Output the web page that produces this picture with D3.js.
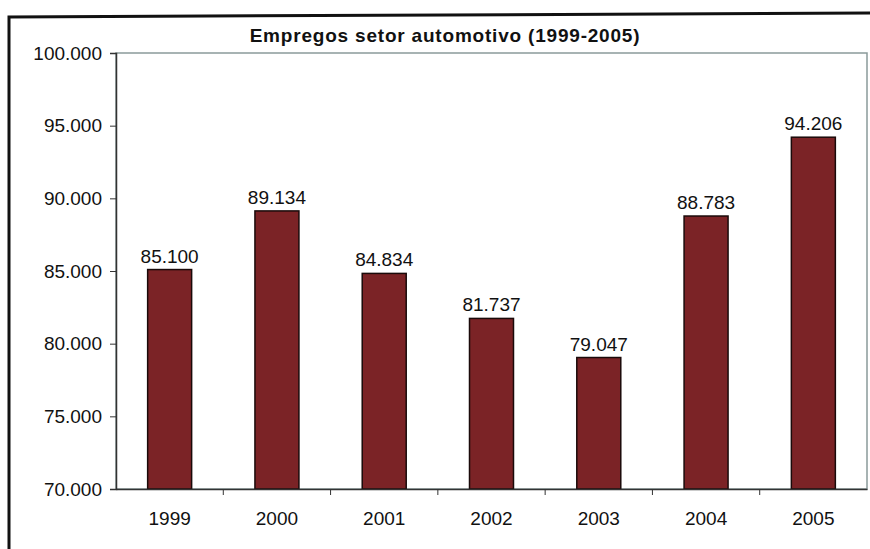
<!DOCTYPE html>
<html>
<head>
<meta charset="utf-8">
<script src="https://cdn.jsdelivr.net/npm/d3@7"></script>
<style>
  body { margin: 0; background: #fff; }
  svg { display: block; font-family: "Liberation Sans", Arial, sans-serif; }
</style>
</head>
<body>
<svg id="chart"></svg>
<script>
// chart data
const years = ["1999", "2000", "2001", "2002", "2003", "2004", "2005"];
const empregos = [85100, 89134, 84834, 81737, 79047, 88783, 94206];
const yTicks = [70000, 75000, 80000, 85000, 90000, 95000, 100000];
const title = "Empregos setor automotivo (1999-2005)";

const WIDTH = 870;
const HEIGHT = 549;
const PADDING = { TOP: 53, RIGHT: 3, BOTTOM: 60, LEFT: 116 };
const FONT = "'Liberation Sans', Arial, sans-serif";

const fmt = v => d3.format(",")(v).replace(/,/g, ".");

let svg = d3.select("#chart")
  .attr("width", WIDTH)
  .attr("height", HEIGHT);

// outer frame
svg.append("path")
  .attr("d", `M9,${HEIGHT} L9,17 L${WIDTH},13`)
  .attr("fill", "none")
  .attr("stroke", "#111")
  .attr("stroke-width", 3);

let xScale = d3.scaleBand()
  .domain(years)
  .range([PADDING.LEFT, WIDTH - PADDING.RIGHT])
  .paddingInner(0.59)
  .paddingOuter(0.295);

let yScale = d3.scaleLinear()
  .domain([70000, 100000])
  .range([HEIGHT - PADDING.BOTTOM, PADDING.TOP]);

// plot area box
svg.append("rect")
  .attr("x", PADDING.LEFT)
  .attr("y", PADDING.TOP)
  .attr("width", WIDTH - PADDING.RIGHT - PADDING.LEFT)
  .attr("height", HEIGHT - PADDING.BOTTOM - PADDING.TOP)
  .attr("fill", "none")
  .attr("stroke", "#8a9a9a")
  .attr("stroke-width", 1.5);

// bars
svg.selectAll("rect.bar")
  .data(empregos)
  .enter()
  .append("rect")
    .attr("class", "bar")
    .attr("x", (d, i) => xScale(years[i]))
    .attr("y", d => yScale(d))
    .attr("width", xScale.bandwidth())
    .attr("height", d => yScale(70000) - yScale(d))
    .attr("fill", "#7b2326")
    .attr("stroke", "#1a0a0a")
    .attr("stroke-width", 1.5);

// value labels
svg.selectAll("text.value")
  .data(empregos)
  .enter()
  .append("text")
    .attr("class", "value")
    .attr("x", (d, i) => xScale(years[i]) + xScale.bandwidth() / 2)
    .attr("y", d => yScale(d) - 7)
    .attr("text-anchor", "middle")
    .attr("font-size", 19)
    .attr("fill", "#111")
    .text(fmt);

// y axis
let yAxis = svg.append("g")
  .attr("transform", `translate(${PADDING.LEFT},0)`)
  .call(d3.axisLeft(yScale).tickValues(yTicks).tickFormat(fmt).tickSize(6).tickPadding(8));
yAxis.select(".domain").attr("stroke", "#333").attr("stroke-width", 1.5);
yAxis.selectAll(".tick line").attr("stroke", "#333");
yAxis.selectAll(".tick text").attr("font-size", 19).attr("fill", "#111")
  .attr("font-family", FONT);

// x axis: ticks between categories
let step = xScale.step();
let xAxis = svg.append("g")
  .attr("transform", `translate(0,${HEIGHT - PADDING.BOTTOM})`)
  .call(d3.axisBottom(xScale).tickSize(0).tickPadding(23));
xAxis.select(".domain").attr("stroke", "#333").attr("stroke-width", 1.5);
xAxis.selectAll(".tick text").attr("font-size", 19).attr("fill", "#111")
  .attr("font-family", FONT);
xAxis.selectAll("line.sep")
  .data(years.slice(1))
  .enter()
  .append("line")
    .attr("class", "sep")
    .attr("x1", d => xScale(d) - (step - xScale.bandwidth()) / 2)
    .attr("x2", d => xScale(d) - (step - xScale.bandwidth()) / 2)
    .attr("y1", 0)
    .attr("y2", 6)
    .attr("stroke", "#333");

// title
svg.append("text")
  .attr("x", 445)
  .attr("y", 42)
  .attr("text-anchor", "middle")
  .attr("font-size", 19)
  .attr("font-weight", "bold")
  .attr("letter-spacing", 0.8)
  .attr("fill", "#111")
  .text(title);
</script>
</body>
</html>
